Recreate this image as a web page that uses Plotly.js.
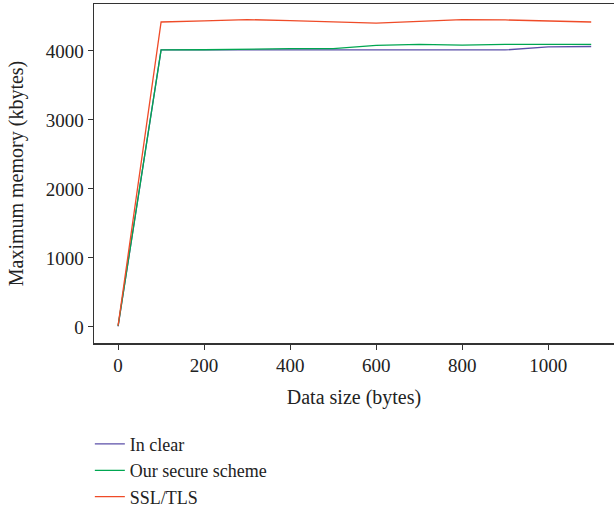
<!DOCTYPE html>
<html><head><meta charset="utf-8">
<script src="https://cdn.plot.ly/plotly-3.0.1.min.js"></script>
<style>html,body{margin:0;padding:0;background:#fff}#chart{width:614px;height:506px}</style>
</head><body><div id="chart"></div>
<script>
const dataSize = [0, 100, 200, 300, 400, 500, 600, 700, 800, 900, 1000, 1100];
const inClear = [10, 4015, 4015, 4015, 4015, 4015, 4015, 4015, 4015, 4015, 4060, 4065];
const secureScheme = [15, 4015, 4018, 4030, 4035, 4035, 4080, 4095, 4085, 4095, 4090, 4095];
const sslTls = [20, 4420, 4435, 4455, 4440, 4425, 4405, 4430, 4455, 4450, 4440, 4420];
const seriesNames = ["In clear", "Our secure scheme", "SSL/TLS"];

const fam = "Liberation Serif, DejaVu Serif, serif";
const tickFont = {family: fam, size: 19, color: "#222"};
const titleFont = {family: fam, size: 20, color: "#222"};
const legendFont = {family: fam, size: 18, color: "#222"};
const traces = [
  {x: dataSize, y: inClear, name: seriesNames[0], mode: "lines", line: {color: "#5b4fa8", width: 1.3}},
  {x: dataSize, y: secureScheme, name: seriesNames[1], mode: "lines", line: {color: "#00a651", width: 1.3}},
  {x: dataSize, y: sslTls, name: seriesNames[2], mode: "lines", line: {color: "#ef4b28", width: 1.3}}
];
const layout = {
  width: 614, height: 506,
  margin: {l: 94, r: 0, t: 4, b: 163, autoexpand: false},
  paper_bgcolor: "#fff", plot_bgcolor: "#fff",
  font: tickFont,
  showlegend: true,
  legend: {x: -0.008, y: -0.244, xanchor: "left", yanchor: "top", font: legendFont, tracegroupgap: 0, itemwidth: 30, bgcolor: "rgba(0,0,0,0)"},
  xaxis: {
    range: [-56, 1153], showgrid: false, zeroline: false,
    showline: true, linecolor: "#333", linewidth: 1.5, mirror: true,
    ticks: "outside", ticklen: 5, tickcolor: "#333", tickvals: [0,200,400,600,800,1000],
    tickfont: tickFont,
    title: {text: "Data size (bytes)", font: titleFont, standoff: 14}
  },
  yaxis: {
    range: [-232, 4681], showgrid: false, zeroline: false,
    showline: true, linecolor: "#333", linewidth: 1.5,
    ticks: "outside", ticklen: 5, tickcolor: "#333", tickvals: [0,1000,2000,3000,4000],
    tickfont: tickFont,
    title: {text: "Maximum memory (kbytes)", font: titleFont, standoff: 16}
  }
};
Plotly.newPlot("chart", traces, layout, {displayModeBar: false, staticPlot: true});
</script></body></html>
